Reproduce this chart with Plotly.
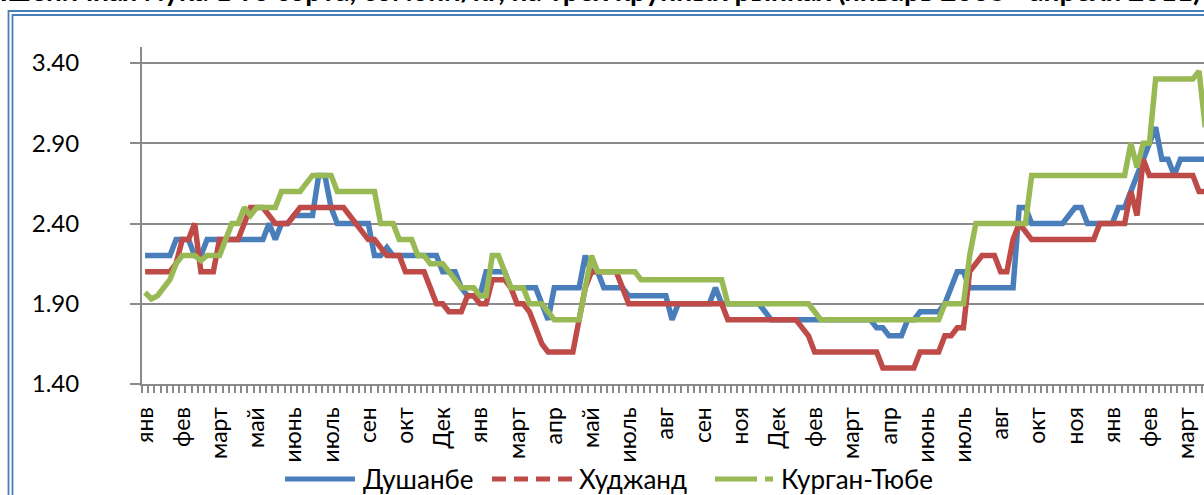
import plotly.graph_objects as go

# weekly prices, somoni/kg, Jan 2008 - Apr 2011
dushanbe = [
    2.20, 2.20, 2.20, 2.20, 2.20, 2.30, 2.30, 2.30, 2.20, 2.20, 2.30, 2.30,
    2.30, 2.30, 2.30, 2.30, 2.30, 2.30, 2.30, 2.30, 2.40, 2.30, 2.40, 2.40,
    2.45, 2.45, 2.45, 2.45, 2.70, 2.70, 2.50, 2.40, 2.40, 2.40, 2.40, 2.40,
    2.40, 2.20, 2.20, 2.25, 2.20, 2.20, 2.20, 2.20, 2.20, 2.20, 2.20, 2.20,
    2.10, 2.10, 2.10, 2.00, 1.95, 1.95, 1.95, 2.10, 2.10, 2.10, 2.10, 2.00,
    2.00, 2.00, 2.00, 2.00, 1.90, 1.80, 2.00, 2.00, 2.00, 2.00, 2.00, 2.20,
    2.10, 2.10, 2.00, 2.00, 2.00, 2.00, 1.95, 1.95, 1.95, 1.95, 1.95, 1.95,
    1.95, 1.80, 1.90, 1.90, 1.90, 1.90, 1.90, 1.90, 2.00, 1.90, 1.90, 1.90,
    1.90, 1.90, 1.90, 1.90, 1.85, 1.80, 1.80, 1.80, 1.80, 1.80, 1.80, 1.80,
    1.80, 1.80, 1.80, 1.80, 1.80, 1.80, 1.80, 1.80, 1.80, 1.80, 1.75, 1.75,
    1.70, 1.70, 1.70, 1.80, 1.80, 1.85, 1.85, 1.85, 1.85, 1.90, 2.00, 2.10,
    2.10, 2.00, 2.00, 2.00, 2.00, 2.00, 2.00, 2.00, 2.00, 2.50, 2.50, 2.40,
    2.40, 2.40, 2.40, 2.40, 2.40, 2.45, 2.50, 2.50, 2.40, 2.40, 2.40, 2.40,
    2.40, 2.50, 2.50, 2.60, 2.70, 2.80, 2.90, 3.00, 2.80, 2.80, 2.70, 2.80,
    2.80, 2.80, 2.80, 2.80,
]
khujand = [
    2.10, 2.10, 2.10, 2.10, 2.10, 2.15, 2.30, 2.30, 2.40, 2.10, 2.10, 2.10,
    2.30, 2.30, 2.30, 2.30, 2.40, 2.50, 2.50, 2.50, 2.45, 2.40, 2.40, 2.40,
    2.45, 2.50, 2.50, 2.50, 2.50, 2.50, 2.50, 2.50, 2.50, 2.45, 2.40, 2.35,
    2.30, 2.30, 2.25, 2.20, 2.20, 2.20, 2.10, 2.10, 2.10, 2.10, 2.00, 1.90,
    1.90, 1.85, 1.85, 1.85, 1.95, 1.95, 1.90, 1.90, 2.05, 2.05, 2.05, 2.00,
    1.90, 1.90, 1.85, 1.75, 1.65, 1.60, 1.60, 1.60, 1.60, 1.60, 1.80, 2.00,
    2.10, 2.10, 2.10, 2.10, 2.10, 2.00, 1.90, 1.90, 1.90, 1.90, 1.90, 1.90,
    1.90, 1.90, 1.90, 1.90, 1.90, 1.90, 1.90, 1.90, 1.90, 1.90, 1.80, 1.80,
    1.80, 1.80, 1.80, 1.80, 1.80, 1.80, 1.80, 1.80, 1.80, 1.80, 1.75, 1.70,
    1.60, 1.60, 1.60, 1.60, 1.60, 1.60, 1.60, 1.60, 1.60, 1.60, 1.60, 1.50,
    1.50, 1.50, 1.50, 1.50, 1.50, 1.60, 1.60, 1.60, 1.60, 1.70, 1.70, 1.75,
    1.75, 2.10, 2.15, 2.20, 2.20, 2.20, 2.10, 2.10, 2.30, 2.40, 2.35, 2.30,
    2.30, 2.30, 2.30, 2.30, 2.30, 2.30, 2.30, 2.30, 2.30, 2.30, 2.40, 2.40,
    2.40, 2.40, 2.40, 2.60, 2.45, 2.80, 2.70, 2.70, 2.70, 2.70, 2.70, 2.70,
    2.70, 2.70, 2.60, 2.60,
]
kurgan_tyube = [
    1.97, 1.93, 1.95, 2.00, 2.05, 2.15, 2.20, 2.20, 2.20, 2.17, 2.20, 2.20,
    2.20, 2.30, 2.40, 2.40, 2.50, 2.45, 2.50, 2.50, 2.50, 2.50, 2.60, 2.60,
    2.60, 2.60, 2.65, 2.70, 2.70, 2.70, 2.70, 2.60, 2.60, 2.60, 2.60, 2.60,
    2.60, 2.60, 2.40, 2.40, 2.40, 2.30, 2.30, 2.30, 2.20, 2.20, 2.15, 2.15,
    2.15, 2.10, 2.05, 2.00, 2.00, 2.00, 1.95, 1.95, 2.20, 2.20, 2.10, 2.00,
    2.00, 2.00, 1.90, 1.90, 1.90, 1.85, 1.80, 1.80, 1.80, 1.80, 1.80, 2.00,
    2.20, 2.10, 2.10, 2.10, 2.10, 2.10, 2.10, 2.10, 2.05, 2.05, 2.05, 2.05,
    2.05, 2.05, 2.05, 2.05, 2.05, 2.05, 2.05, 2.05, 2.05, 2.05, 1.90, 1.90,
    1.90, 1.90, 1.90, 1.90, 1.90, 1.90, 1.90, 1.90, 1.90, 1.90, 1.90, 1.90,
    1.85, 1.80, 1.80, 1.80, 1.80, 1.80, 1.80, 1.80, 1.80, 1.80, 1.80, 1.80,
    1.80, 1.80, 1.80, 1.80, 1.80, 1.80, 1.80, 1.80, 1.80, 1.90, 1.90, 1.90,
    1.90, 2.20, 2.40, 2.40, 2.40, 2.40, 2.40, 2.40, 2.40, 2.40, 2.40, 2.70,
    2.70, 2.70, 2.70, 2.70, 2.70, 2.70, 2.70, 2.70, 2.70, 2.70, 2.70, 2.70,
    2.70, 2.70, 2.70, 2.90, 2.75, 2.90, 2.90, 3.30, 3.30, 3.30, 3.30, 3.30,
    3.30, 3.30, 3.35, 3.00,
]

# a month label is shown on every 6th week
month_labels = ["янв", "фев", "март", "май", "июнь", "июль", "сен", "окт", "Дек",
                "янв", "март", "апр", "май", "июль", "авг", "сен", "ноя", "Дек",
                "фев", "март", "апр", "июнь", "июль", "авг", "окт", "ноя",
                "янв", "фев", "март"]
label_step = 6
y_ticks = [1.40, 1.90, 2.40, 2.90, 3.40]

series = [
    ("Душанбе", dushanbe, "#4A7EBB"),
    ("Худжанд", khujand, "#BE4B48"),
    ("Курган-Тюбе", kurgan_tyube, "#98B954"),
]

W, H = 1204, 495
L, R, T, B = 142, 0, 47, 111
PW, PH = W - L - R, H - T - B


def px(x):
    return (x - L) / PW


def py(y):
    return (H - B - y) / PH


fig = go.Figure()
for name, vals, color in series:
    fig.add_trace(go.Scatter(
        x=list(range(len(vals))), y=vals, mode="lines", name=name,
        line=dict(color=color, width=5.5), showlegend=False,
    ))

font = "Lato, 'Open Sans', sans-serif"
fig.update_layout(
    width=W, height=H,
    margin=dict(l=L, r=R, t=T, b=B, autoexpand=False),
    paper_bgcolor="white", plot_bgcolor="white",
    font=dict(family=font, size=22, color="black"),
    xaxis=dict(
        range=[-0.5, 170.8], automargin=False,
        tickvals=[i * label_step for i in range(len(month_labels))],
        ticktext=month_labels,
        tickangle=-90, ticks="", ticklabelstandoff=12,
        showgrid=False, zeroline=False,
        showline=True, linecolor="#8a8a8a", linewidth=2,
        minor=dict(tick0=-0.5, dtick=1, ticks="outside", ticklen=7,
                   tickwidth=1.5, tickcolor="#8a8a8a", showgrid=False),
        tickfont=dict(size=23),
    ),
    yaxis=dict(
        range=[1.40, 3.50], automargin=False,
        tickvals=y_ticks, ticktext=[f"{v:.2f}" for v in y_ticks],
        ticks="outside", ticklen=10, tickwidth=1.5, tickcolor="#8a8a8a",
        ticklabelstandoff=46,
        showgrid=True, gridcolor="#8a8a8a", gridwidth=1.5,
        zeroline=False, showline=True, linecolor="#8a8a8a", linewidth=2,
        tickfont=dict(size=24),
    ),
)

# double blue frame of the chart box (right and bottom edges are cut off)
for x0, y0 in [(8.5, 11), (12.5, 15)]:
    fig.add_shape(type="rect", xref="paper", yref="paper",
                  x0=px(x0), y0=py(H + 20), x1=px(W + 20), y1=py(y0),
                  line=dict(color="#4A7EBB", width=1.8), layer="below")

# title, only its lower half is visible
fig.add_annotation(
    text="Пшеничная мука 1-го сорта, сомони/кг, на трех крупных рынках (январь 2008 - апреля 2011)",
    xref="paper", yref="paper", x=px(1203), y=py(-10), xanchor="right", yanchor="middle",
    showarrow=False, font=dict(size=28, family=font, color="black", weight="bold"),
)

# legend drawn by hand to get Excel-like long samples
legend_y = py(479)
legend_items = [
    (285, 355, "solid", 361),
    (492, 572, "14px,8px", 577),
    (715, 773, "42px,8px", 779),
]
for (name, vals, color), (x0, x1, dash, tx) in zip(series, legend_items):
    fig.add_shape(type="line", xref="paper", yref="paper",
                  x0=px(x0), x1=px(x1), y0=legend_y, y1=legend_y,
                  line=dict(color=color, width=5, dash=dash))
    fig.add_annotation(text=name, xref="paper", yref="paper",
                       x=px(tx), y=legend_y, xanchor="left", yanchor="middle",
                       showarrow=False, font=dict(size=26, family=font))

# the page's default body margin would shift the chart by 8px
fig.write_html("out.html", config={"displayModeBar": False},
               post_script="document.body.style.margin = '0';")
